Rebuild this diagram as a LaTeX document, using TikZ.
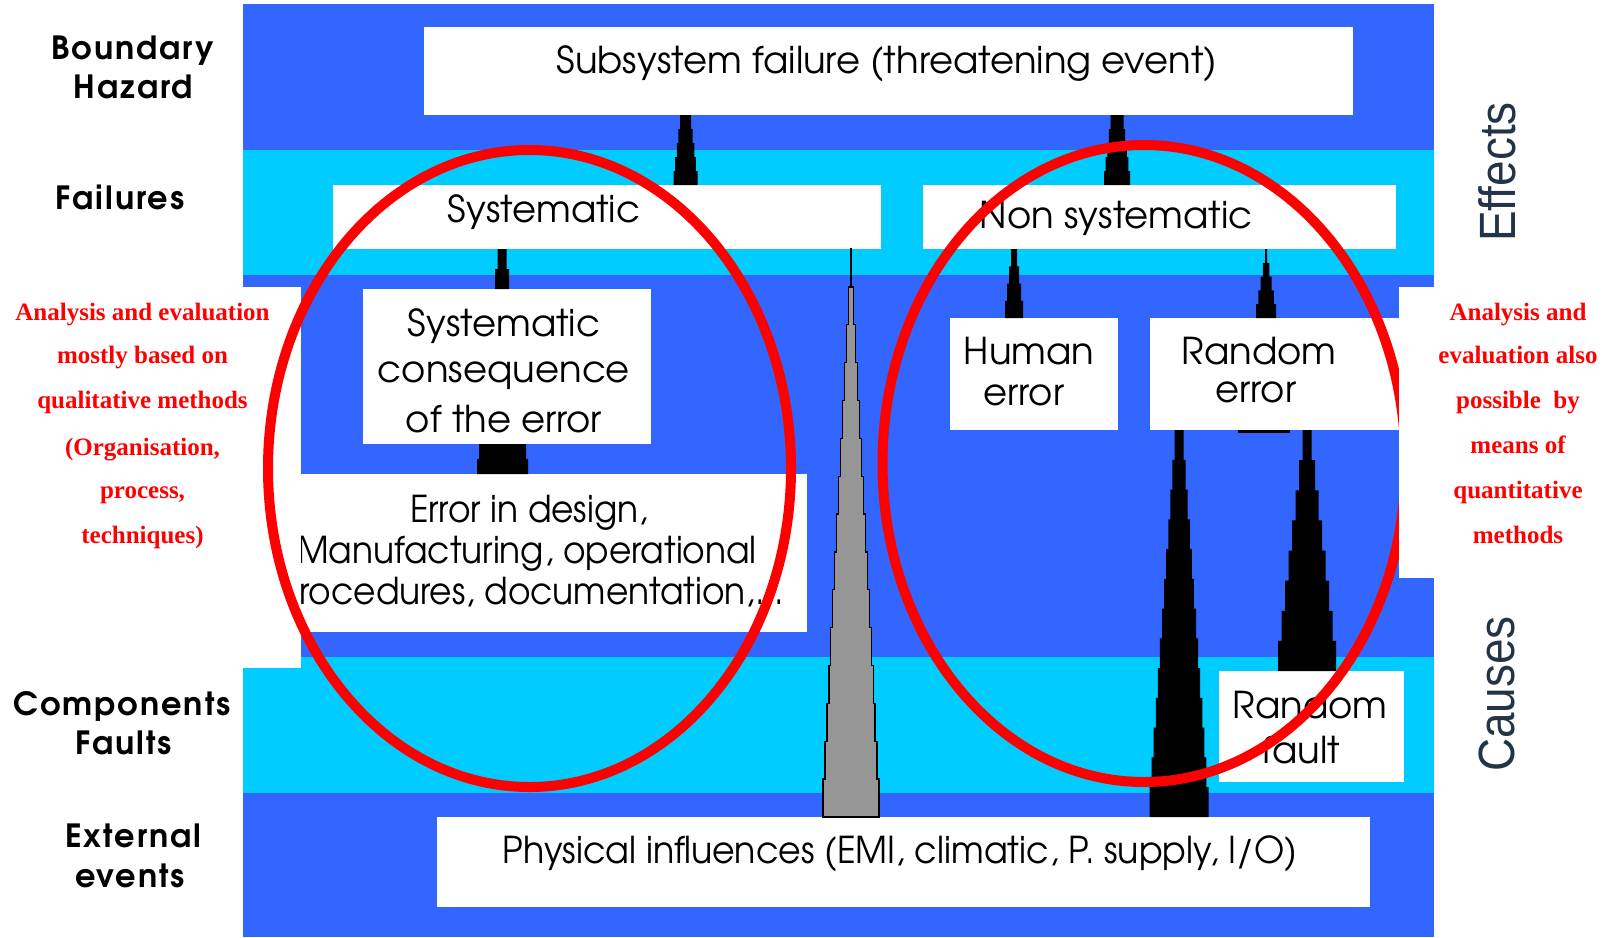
\documentclass[tikz,border=0pt]{standalone}
\usepackage{fontspec}
\IfFontExistsTF{texgyreadventor-regular.otf}
  {\newfontfamily\gothic{texgyreadventor}[Extension=.otf,UprightFont=*-regular,BoldFont=*-bold]
   \newfontfamily\gothicwide{texgyreadventor}[Extension=.otf,UprightFont=*-regular,BoldFont=*-bold,LetterSpace=6]}
  {\newfontfamily\gothic{Poppins}
   \newfontfamily\gothicwide{Poppins}[LetterSpace=6]}
\newfontfamily\axisfont{Liberation Sans}[FakeStretch=0.9]
\newfontfamily\notefont{Liberation Serif}

\definecolor{panelblue}{RGB}{51,102,255}
\definecolor{bandcyan}{RGB}{0,204,255}
\definecolor{spikegrey}{RGB}{150,150,150}
\definecolor{slatetext}{RGB}{35,52,72}
\definecolor{markred}{RGB}{255,0,0}

% Stepped, tapering link: narrow tip at #2, wide base at #3,
% #4 tip width, #5 base width, #6 number of steps (>=2)
\newcommand\spike[6][fill=black]{%
  \path #2; \pgfgetlastxy{\spTx}{\spTy}%
  \path #3; \pgfgetlastxy{\spBx}{\spBy}%
  \pgfmathsetmacro\spN{int(#6)}%
  \pgfmathsetmacro\spM{int(#6-1)}%
  \path[#1] (\spTx,\spTy)
    foreach \k in {0,...,\spM}{
      -- ({\spTx+(#4+(#5-#4)*\k/\spM)/2}, {\spTy+(\spBy-\spTy)*\k/\spN})
      -- ({\spTx+(#4+(#5-#4)*\k/\spM)/2}, {\spTy+(\spBy-\spTy)*(\k+1)/\spN})
    }
    foreach \k in {\spM,...,0}{
      -- ({\spTx-(#4+(#5-#4)*\k/\spM)/2}, {\spTy+(\spBy-\spTy)*(\k+1)/\spN})
      -- ({\spTx-(#4+(#5-#4)*\k/\spM)/2}, {\spTy+(\spBy-\spTy)*\k/\spN})
    } -- cycle;
}
% slightly condensed line of box text
\newcommand\narrow[2]{\scalebox{#1}[1]{#2}}

\tikzset{
  whitebox/.style={fill=white, draw=none, inner sep=0pt, outer sep=0pt, anchor=north west},
  boxtext/.style={font=\gothic\fontsize{37}{42}\selectfont, anchor=base, inner sep=0pt},
  rowlabel/.style={font=\gothicwide\bfseries\fontsize{32}{36}\selectfont, anchor=base, inner sep=0pt},
  note/.style={font=\notefont\bfseries\fontsize{25}{30}\selectfont, text=markred, anchor=base, inner sep=0pt},
  axislabel/.style={font=\axisfont\fontsize{51}{56}\selectfont, text=slatetext, rotate=90, inner sep=0pt},
  ring/.style={draw=markred, line width=10pt},
  greyspike/.style={fill=spikegrey, draw=black, line width=1.3pt},
}

\begin{document}
\begin{tikzpicture}[x=1pt, y=-1pt]
  \useasboundingbox (0,0) rectangle (1616,937);
  \fill[white] (0,0) rectangle (1616,937);

  % layered background
  \fill[panelblue] (243,4) rectangle (1434,937);
  \fill[bandcyan] (243,150) rectangle (1434,275);
  \fill[bandcyan] (243,657) rectangle (1434,793);

  % boxes
  \node[whitebox, minimum width=929pt, minimum height=88pt] (subsys) at (424,27) {};
  \node[whitebox, minimum width=548pt, minimum height=64pt] (sys) at (333,185) {};
  \node[whitebox, minimum width=473pt, minimum height=64pt] (nonsys) at (923,185) {};
  \node[whitebox, minimum width=288pt, minimum height=155pt] (cons) at (363,289) {};
  \node[whitebox, minimum width=507pt, minimum height=158pt] (err) at (300,474) {};
  \node[whitebox, minimum width=168pt, minimum height=112pt] (human) at (950,318) {};
  \node[whitebox, minimum width=249pt, minimum height=112pt] (rerr) at (1150,318) {};
  \node[whitebox, minimum width=185pt, minimum height=111pt] (rfault) at (1219,671) {};
  \node[whitebox, minimum width=933pt, minimum height=90pt] (phys) at (437,817) {};

  % links between the levels
  \spike{(685.5,0 |- subsys.south)}{(685.5,0 |- sys.north)}{11}{24}{5}
  \spike{(1117,0 |- subsys.south)}{(1117,0 |- nonsys.north)}{13}{26}{5}
  \spike{(502,0 |- sys.south)}{(502,0 |- cons.north)}{9}{14}{2}
  \spike{(502.5,0 |- cons.south)}{(502.5,0 |- err.north)}{47}{51}{2}
  \spike{(1014,0 |- nonsys.south)}{(1014,0 |- human.north)}{6}{18}{4}
  \spike{(1266,0 |- nonsys.south)}{(1266,0 |- rerr.north)}{2}{20}{5}
  \spike[greyspike]{(851,0 |- sys.south)}{(851,0 |- phys.north)}{1.5}{56}{15}
  \spike{(1179,0 |- rerr.south)}{(1179,0 |- phys.north)}{9}{59}{13}
  \spike{(1307,0 |- rerr.south)}{(1307,0 |- rfault.north)}{9}{58}{8}
  \fill[black] (1238,0 |- rerr.south) rectangle ++(52,3);

  % box texts
  \node[boxtext] (tsub) at (887,73) {Subsystem failure (threatening event)};
  \node[boxtext] (tsys) at (544,222) {Systematic};
  \node[boxtext] (tnon) at (1116,228) {Non systematic};
  \node[boxtext] (tcons1) at (504,336) {Systematic};
  \node[boxtext] (tcons2) at (504,382) {consequence};
  \node[boxtext] (tcons3) at (504,432) {of the error};
  \begin{scope}
    \clip (err.north west) rectangle (err.south east);
    \node[boxtext] (terr1) at (529,522) {\narrow{0.93}{Error in design,}};
    \node[boxtext] (terr2) at (527,563) {\narrow{0.93}{Manufacturing, operational}};
    \node[boxtext] (terr3) at (530,604) {\narrow{0.93}{procedures, documentation,...}};
  \end{scope}
  \node[boxtext] (thum1) at (1029,364) {Human};
  \node[boxtext] (thum2) at (1024,405) {error};
  \node[boxtext] (trerr1) at (1259,364) {Random};
  \node[boxtext] (trerr2) at (1256,402) {error};
  \node[boxtext] (trf1) at (1310,718) {Random};
  \node[boxtext] (trf2) at (1301,763) {fault};
  \node[boxtext] (tphys) at (900,863) {\narrow{0.94}{Physical influences (EMI, climatic, P. supply, I/O)}};

  % highlighted groups
  \draw[ring] (1144,463.5) ellipse [x radius=261.5, y radius=318.5];
  \fill[white] (1399,287) rectangle (1434,578);
  \fill[white] (243,287) rectangle (301,668);
  \draw[ring] (529.5,468.5) ellipse [x radius=261.5, y radius=318.5];

  % level names
  \node[rowlabel] (lb1) at (132.5,59) {Boundary};
  \node[rowlabel] (lb2) at (133.5,98) {Hazard};
  \node[rowlabel] (lf) at (120,209) {Failures};
  \node[rowlabel] (lc1) at (122,715) {Components};
  \node[rowlabel] (lc2) at (123.5,754) {Faults};
  \node[rowlabel] (le1) at (133,847) {External};
  \node[rowlabel] (le2) at (130,887) {events};

  \node[axislabel] (effects) at (1497,172) {Effects};
  \node[axislabel] (causes) at (1497,694) {Causes};

  % notes
  \node[note] (nl1) at (142.5,320) {Analysis and evaluation};
  \node[note] (nl2) at (142.5,363) {mostly based on};
  \node[note] (nl3) at (142.5,408) {qualitative methods};
  \node[note] (nl4) at (142.5,455) {(Organisation,};
  \node[note] (nl5) at (142.5,498) {process,};
  \node[note] (nl6) at (142.5,543) {techniques)};

  \node[note] (nr1) at (1518,320) {Analysis and};
  \node[note] (nr2) at (1518,363) {evaluation also};
  \node[note] (nr3) at (1518,408) {possible\ \ by};
  \node[note] (nr4) at (1518,453) {means of};
  \node[note] (nr5) at (1518,498) {quantitative};
  \node[note] (nr6) at (1518,543) {methods};
\end{tikzpicture}
\end{document}
